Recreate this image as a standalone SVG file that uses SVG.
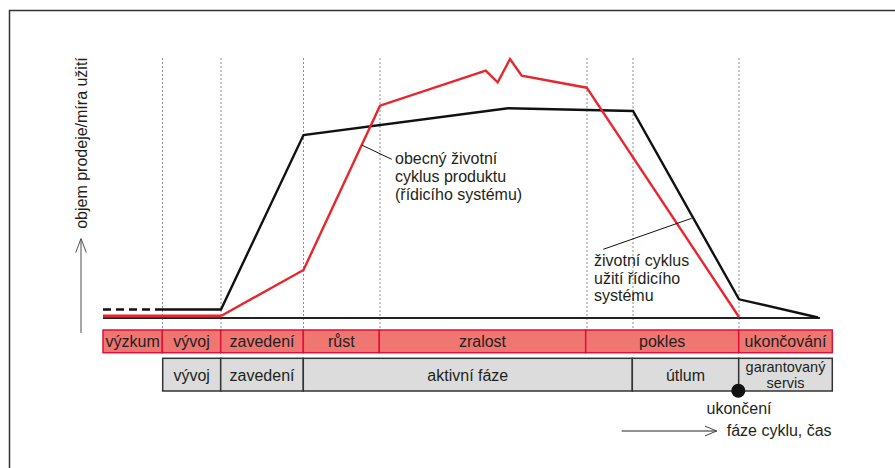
<svg xmlns="http://www.w3.org/2000/svg" width="895" height="468" viewBox="0 0 895 468">
<style>
text{font-family:"Liberation Sans",Arial,sans-serif;font-size:16px;fill:#231f20}
.c{text-anchor:middle}
.sm{font-size:14.5px}
.grid{stroke:#8f8f8f;stroke-width:1;stroke-dasharray:2,2;fill:none}
.red{stroke:#e8262d;stroke-width:2.4;fill:none;stroke-linejoin:miter}
.blk{stroke:#111;stroke-width:2.4;fill:none}
.rb{fill:#f07672;stroke:#e0103a;stroke-width:1.5}
.gb{fill:#dcdcdc;stroke:#333;stroke-width:1.5}
.lead{stroke:#111;stroke-width:1;fill:none}
</style>
<defs>
<marker id="open" markerWidth="14" markerHeight="12" refX="12" refY="6" orient="auto" markerUnits="userSpaceOnUse">
<path d="M0,1 L12,6 L0,11" fill="none" stroke="#444" stroke-width="1"/>
</marker>
</defs>
<rect width="895" height="468" fill="#fff"/>
<path d="M9.5,468 V10.5 H895" fill="none" stroke="#333" stroke-width="1.5"/>

<g id="grid">
<path class="grid" d="M162.5,58 V328 M221,58 V328 M303.5,58 V328 M380,58 V328 M587,58 V328 M633,58 V328 M739,58 V328"/>
</g>

<g id="connectors">
<path d="M103,318 H820" stroke="#222" stroke-width="2" fill="none"/>
<path d="M103,309.5 H162" stroke="#111" stroke-width="2.4" stroke-dasharray="8,5" fill="none"/>
<path class="blk" d="M162,309.5 H221 L303.5,135 L508,108.3 L633,111 L739,299.3 L818,317.5"/>
<path d="M103,316 H221" stroke="#e8262d" stroke-width="3.2" fill="none"/>
<path class="red" d="M221,316 L303.5,270 L380,105.7 L485.7,70.7 L497.7,82.3 L510,59 L521.7,75.7 L586.7,87.7 L739,317"/>
<path class="lead" d="M361.7,145 L391.7,159.3"/>
<path class="lead" d="M603.3,249.3 L691.7,218.3"/>
<path d="M81,333 V239" stroke="#777" stroke-width="1.3" fill="none"/>
<path d="M75.7,252.7 L81,238.5 L86.3,252.7" stroke="#555" stroke-width="1" fill="none"/>
<path d="M621.7,431 H716.7" stroke="#222" stroke-width="1" fill="none" marker-end="url(#open)"/>
</g>

<g id="yaxis-label"><text class="c" transform="translate(86.5,143) rotate(-90)">objem prodeje/míra užití</text></g>

<g id="label-product">
<text x="395" y="164">obecný životní</text>
<text x="395" y="182">cyklus produktu</text>
<text x="395" y="200">(řídicího systému)</text>
</g>
<g id="label-usage">
<text x="594" y="266">životní cyklus</text>
<text x="594" y="283.5">užití řídicího</text>
<text x="594" y="301">systému</text>
</g>

<g id="product-phases">
<g id="p-vyzkum"><rect class="rb" x="103" y="330" width="59.3" height="22.7"/><text class="c" x="132.7" y="346.5">výzkum</text></g>
<g id="p-vyvoj"><rect class="rb" x="162.3" y="330" width="58.4" height="22.7"/><text class="c" x="191.5" y="346.5">vývoj</text></g>
<g id="p-zavedeni"><rect class="rb" x="220.7" y="330" width="82.6" height="22.7"/><text class="c" x="262" y="346.5">zavedení</text></g>
<g id="p-rust"><rect class="rb" x="303.3" y="330" width="76" height="22.7"/><text class="c" x="341.3" y="346.5">růst</text></g>
<g id="p-zralost"><rect class="rb" x="379.3" y="330" width="206.4" height="22.7"/><text class="c" x="482.5" y="346.5">zralost</text></g>
<g id="p-pokles"><rect class="rb" x="585.7" y="330" width="153" height="22.7"/><text class="c" x="662.2" y="346.5">pokles</text></g>
<g id="p-ukoncovani"><rect class="rb" x="738.7" y="330" width="93.6" height="22.7"/><text class="c" x="785.5" y="346.5">ukončování</text></g>
</g>

<g id="usage-phases">
<g id="u-vyvoj"><rect class="gb" x="162.7" y="358.3" width="58" height="32.7"/><text class="c" x="191.7" y="380.5">vývoj</text></g>
<g id="u-zavedeni"><rect class="gb" x="220.7" y="358.3" width="82.6" height="32.7"/><text class="c" x="262" y="380.5">zavedení</text></g>
<g id="u-aktivni"><rect class="gb" x="303.3" y="358.3" width="329" height="32.7"/><text class="c" x="467.8" y="380.5">aktivní fáze</text></g>
<g id="u-utlum"><rect class="gb" x="632.3" y="358.3" width="106.4" height="32.7"/><text class="c" x="685.5" y="380.5">útlum</text></g>
<g id="u-servis"><rect class="gb" x="738.7" y="358.3" width="93.6" height="32.7"/><text class="c sm" x="785.5" y="372">garantovaný</text><text class="c sm" x="785.5" y="387.5">servis</text></g>
</g>

<g id="ukonceni">
<circle cx="738.3" cy="390.7" r="7" fill="#111"/>
<text class="c" x="739" y="413.5">ukončení</text>
</g>
<g id="time-label"><text x="726.7" y="436">fáze cyklu, čas</text></g>
</svg>
